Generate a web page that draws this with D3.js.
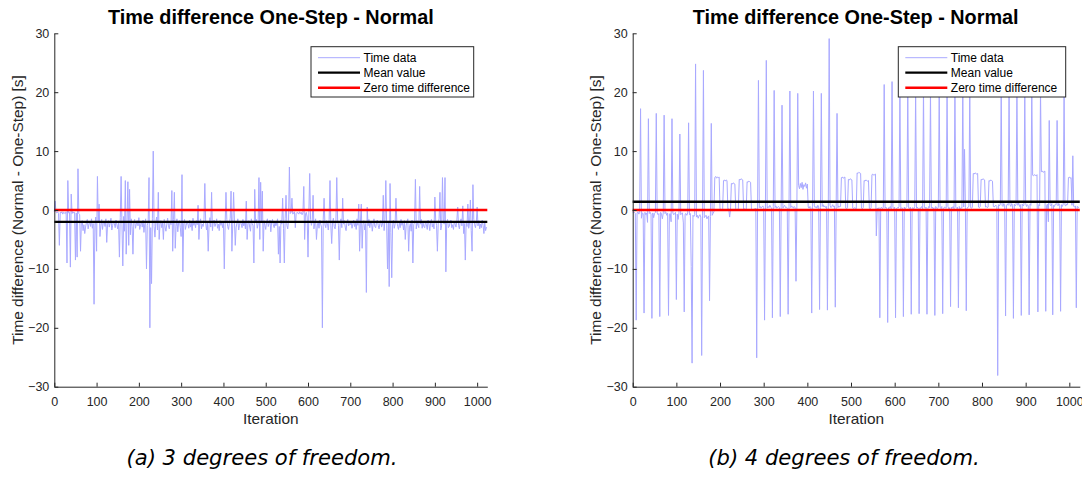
<!DOCTYPE html>
<html><head><meta charset="utf-8">
<script src="https://cdn.jsdelivr.net/npm/d3@7"></script>
<style>body{margin:0;background:#fff} svg{display:block}</style>
</head><body><svg id="c" width="1082" height="479"></svg>
<script>
// ---- data (one value every 2 iterations) ----
const iterStep = 2;
const leftValues = [
-0.3,1.5,-0.4,-0.5,-0.3,-0.6,-6,-0.4,-0.5,-0.3,-0.7,-0.4,-0.5,-0.6,-0.3,-9,
5,-0.5,-0.4,-9.7,2.7,-0.6,-0.3,-0.5,-0.4,-8.5,-0.5,-8,7,-0.6,-0.8,-7,
-2.2,-1.8,-3.5,-2.5,-4,-2.9,-2.1,-1.6,-3.2,-2.4,-1.9,-2.8,-1.5,-3.1,-2.3,-16,
-2.6,-1.2,-7,5.7,-2,1,-4.5,-2.7,-1.6,-3.3,-2.1,-1.9,-2.8,-1.5,-5.5,-2.4,
-1.8,-2.9,-2.2,-1.4,-3.4,-2.6,-1.9,-2.3,-3,-1.7,-2.5,-3.2,-2.1,-8,-1.3,5.7,
-2.5,-9.5,-1.1,-3.6,5,-7.5,-2,4.8,-6,3.5,-4.2,-1.5,-2.8,-7.5,-2.2,-1.6,
-3.1,-2.4,-1.8,-2.7,-1.3,-3.3,-2.5,-2,-2.9,-1.7,-3.8,-2.3,-1.5,-10,-2.6,-1.9,
5.5,-20,-3,-12.5,-1.4,10,-2.8,-4.6,-2.1,-1.2,-3.4,3,-5,-2.4,-1.8,-3,
-2.2,-5,-1.6,-2.9,-3.6,-2.4,-1.4,-2.7,-3.2,-1.9,-2.5,3.3,-7,-1.6,3,-6.5,
-2.8,-1.5,-3.7,-2.2,-1.8,-3,-4.5,6,-10.5,-2.3,-1.6,-3.3,-2.6,-1.9,-2.4,-3.1,
-1.7,-2.9,-2.2,-3.5,-1.4,-2.6,-2,-3,-1.8,-2.5,0.8,-5,-2.1,-1.5,-3.2,-2.4,
-2.8,-1.6,4.5,-2.2,-3.4,-1.9,-7,-2.5,-1.3,-2.9,3,-3.5,-2,-1.7,-2.8,-2.3,
-1.5,-3.1,-2.4,-3.5,-1.8,-2.6,-2.1,-3,-1.9,-10,-2.4,3,-1.6,-2.8,-3.3,-2.2,
-1.4,3.2,-7,-2.5,3,-1.7,-6,-2.9,-2.2,-1.5,-3.4,-2.6,-1.9,-2.3,-3,-1.6,
-2.7,-2.1,-3.2,1.5,-5,-2.4,-1.8,-2.9,-3.6,-1.5,-2.3,-2.7,-9,3.5,-2,-1.6,
-3.1,-2.4,5.5,-5,4.7,-2.2,3.2,-7,-1.8,-2.6,-3.3,-2,-1.5,-2.8,-2.3,-1.7,
-3.7,-2.1,-1.6,-2.5,-3,-1.9,-2.7,-2.2,-1.5,-7.5,-2.8,-9,-1.7,-2.4,2,-3.1,
-9,-1.4,2.5,-2.6,-3.2,-1.8,7.3,-0.6,-0.4,2,-0.7,-0.5,-0.3,-3,-0.6,-0.4,
-0.5,-0.7,-0.3,-0.6,-0.4,-0.8,-0.5,4,-5,-0.6,-0.4,-1.2,-8,-0.5,6.2,-1.6,
-2.6,-1.9,2.5,-3.2,-2.2,-1.5,-5,-2.7,-2,-3.1,-1.7,-2.4,-2.9,-20,-1.6,2,
-2.5,-3,-1.8,-2.3,-3.4,-1.6,5,-2.7,-5.7,-2.1,-1.4,-2.8,-3.2,-2,5.5,-1.7,
-2.6,-8.5,-2.2,-1.5,-3,2,-2.4,-1.8,-2.9,-3.5,-2.1,-1.6,-2.7,-2.3,-2.5,-1.9,
-3.1,-2.4,-1.7,-2.8,-2.2,-3.3,-1.5,-2.6,1,-7,-2,1,-6.5,-2.5,-1.8,-3.4,
-2.3,-14,0.5,-2.7,-1.6,-3,-2.2,-1.9,-3.6,-2.4,-1.5,-2.8,-3,-2.1,-1.7,-2.6,
-3.2,-2.3,-1.8,-2.9,-2.4,2.5,-3.5,-1.6,5,-2.7,-10,-2.2,-13,4.5,-3.8,-11.5,
-2.5,-1.7,-3.1,-2.4,2,-1.9,-2.8,-3.3,-2.1,-3,-1.6,-2.6,-2.2,-3.4,-1.8,-5,
-2.7,-2,-1.5,-7,-2.9,-2.3,-3.6,-1.7,-9,-2.5,-2.1,5.2,-3.2,-1.8,-2.6,-3,
4,-2.4,-1.6,-3.1,-2.2,-2.8,-3,-1.9,-2.5,-3.3,-1.7,-2.4,-3.5,-2,-1.6,-2.9,
-2.3,-3.2,2.2,-1.8,-2.6,-7,-2.1,-1.5,3,-3.4,-2.7,5.5,-1.9,-2.4,5.5,-10.5,
-2.2,-1.6,-3,-2.8,-2.1,-1.7,-3,-2.5,-3.3,-1.9,-2.4,-2.9,-1.8,0.5,-2.6,-3.2,
-2,-1.5,-2.7,0.7,-4,-2.3,-8.5,-1.9,-2.8,1,-3.1,-2.2,1.7,-3.5,-7,4.3,
-1.6,-2.5,-3,-2.1,0.5,-2.7,-1.8,-3.2,-2.4,-3,-1.7,-2.6,-4,-2.2,-3.5,-2.9
];
const rightValues = [
-0.3,-0.5,-0.4,-0.6,-18.7,-0.5,-0.3,-0.7,-0.4,17.2,-1.4,-0.5,-0.6,-17.5,-0.4,-0.8,
-0.5,-2.1,15.5,-0.6,-0.4,-0.7,-18.4,-0.5,-1.3,-0.6,-0.4,16.4,-0.5,-0.8,-0.6,-18.1,
-0.4,-0.7,-1.5,-0.5,16.1,-0.6,-0.4,-0.9,-0.5,-17.9,-0.7,-0.6,-2,15.5,-0.5,-0.8,
-0.6,-0.4,-15.2,-0.7,-1.6,-0.5,12.9,-0.8,-0.6,-0.5,-2.2,-17.3,-0.7,-0.6,-0.9,-0.5,
14.8,-0.8,-0.6,-9.6,-26,-0.9,-1.1,-0.8,24.8,-1.2,-0.9,-1.4,-1,-0.8,-1.2,-24.7,
-1,23.7,-1.3,-1.1,-0.9,-1.5,-1.2,-1,-15.4,-1.1,14.7,-0.9,-0.6,-0.3,5.5,5.7,
5.4,5.6,5.5,5.6,0.2,0.1,-0.1,0.2,5,5.1,4.9,5.1,5,0.1,0.2,-1.2,
0.1,4.5,4.4,4.6,4.5,4.4,0.2,0,0.1,0.2,5.2,5.1,5.3,5.2,5.1,0.1,
0.2,0,0.1,4.8,4.7,4.9,4.8,4.7,0.2,0.1,0,0.2,0.1,0.3,-25.1,0.5,
22,0.4,0.6,0.3,0.5,0.7,0.4,-18.7,0.5,25.4,0.3,0.6,0.4,0.8,0.5,0.3,
-18.3,0.6,20.3,0.4,0.7,0.3,0.5,0.6,0.4,-18.1,0.5,17.8,0.3,0.6,0.8,0.4,
0.5,0.3,-17.7,0.6,20.2,0.4,0.7,0.5,0.3,0.6,0.4,-12.1,0.5,19.8,4.2,3.6,
4.5,3.8,4.7,3.5,4.3,4,4.6,3.7,4.4,0.5,0.3,0.6,0.4,-17.5,0.5,20.2,
0.7,0.4,0.6,0.3,0.8,0.5,-16.9,0.4,19.8,0.6,0.9,0.5,0.7,0.4,0.6,-17,
0.5,29.1,0.8,0.4,0.6,0.9,0.5,0.7,-16.5,0.6,16.4,0.4,0.7,0.5,0.6,5.5,
5.6,5.4,5.5,5.6,0.3,0.2,0.4,5.2,5.1,5.3,5.2,5.1,0.3,0.2,0.4,0.3,
0.2,6.3,6.2,6.4,6.3,6.2,0.3,0.2,0.4,5,4.9,5.1,5,4.9,5,0.3,
0.2,0.4,6,6.1,5.9,6,6.1,-4.4,0.3,0.2,0.4,-18.3,0.3,0.5,0.2,0.4,
21.3,0.3,0.5,0.2,-19.1,0.4,0.3,0.6,0.2,21.8,0.4,0.3,0.5,-18.3,0.2,0.4,
0.3,0.6,20.5,0.2,0.4,0.3,-18.1,0.5,0.2,0.4,0.6,20.6,0.3,0.2,0.5,-17.7,
0.3,0.4,0.2,0.6,20.4,0.3,0.5,0.2,-17.6,0.4,0.3,0.6,0.2,20.7,0.4,0.3,
0.5,-17.7,0.2,0.6,0.4,20.3,0.3,0.5,0.2,0.4,-17.9,0.6,0.3,0.2,0.5,20.6,
0.4,0.3,0.6,-17.6,0.2,0.5,0.4,0.3,20.4,0.6,0.2,0.4,-16.4,0.5,0.3,0.6,
0.2,20.5,0.4,0.3,0.5,-16.6,0.6,0.2,0.4,0.3,20.3,0.5,10.3,0.4,-17.1,0.3,
0.5,0.6,20.4,0.4,0.3,0.5,6.2,6.1,6.3,6.2,6.1,6.2,0.5,0.4,0.6,5.2,
5.1,5.3,5.2,5.1,0.5,0.6,0.4,0.5,5,4.9,5.1,5,4.9,0.6,0.5,0.7,
0.8,0.6,-28.1,0.9,0.7,1,20.5,0.8,0.6,1.1,0.9,-18,0.7,1,0.8,20.4,
0.9,0.6,1.1,0.8,-18.4,1,0.7,0.9,20.6,0.8,1.2,0.6,0.9,-17.9,1,0.7,
0.8,20.3,1.1,0.6,0.9,0.7,-17.8,1,0.8,20.5,5.9,5.8,6,5.9,5.8,6,
-17.3,0.9,0.7,20.4,6.5,6.6,6.4,6.5,6.6,-17.2,0.8,1,-2,15.2,0.9,0.7,
1.1,-17.8,0.8,0.6,1,0.9,15.2,0.7,1.1,0.8,-17.2,0.9,0.6,1,20,0.8,
0.7,1,0.9,5.5,5.6,5.4,5.5,0.8,9.2,0.6,0.5,0.7,-16.6,0.6,0.5,0.4
];
const leftMean = -2.0;
const rightMean = 1.4;
const xDomain = [0, 1024];
const yDomain = [-30, 30];
const xTicks = [0,100,200,300,400,500,600,700,800,900,1000];
const yTicks = [-30,-20,-10,0,10,20,30];
const titleText = "Time difference One-Step - Normal";
const xLabelText = "Iteration";
const yLabelText = "Time difference (Normal - One-Step) [s]";
const legendLabels = ["Time data","Mean value","Zero time difference"];
const captions = ["(a) 3 degrees of freedom.","(b) 4 degrees of freedom."];

// ---- layout ----
const svg = d3.select("#c");
const AX = "#262626";
const FONT = "'Liberation Sans', Arial, Helvetica, sans-serif";
const panels = [
  {values:leftValues, mean:leftMean, caption:captions[0], x0:54.3, x1:487.3, ylabX:23, lg:{x:311,w:162.7}, capX:262},
  {values:rightValues, mean:rightMean, caption:captions[1], x0:632.7, x1:1079.8, ylabX:600.5, lg:{x:898.3,w:167.4}, capX:844}
];
const yTop = 33.3, yBot = 386.7;

function fitText(sel, target){
  const w = sel.node().getComputedTextLength();
  const fs = parseFloat(sel.attr("font-size"));
  sel.attr("font-size", (fs*target/w).toFixed(2));
  return fs*target/w;
}

let titleFS=null, labelFS=null, capFS=null;

panels.forEach((p,pi)=>{
  const x = d3.scaleLinear().domain(xDomain).range([p.x0, p.x0 + (p.x1-p.x0)]);
  const y = d3.scaleLinear().domain(yDomain).range([yBot, yTop]);
  const g = svg.append("g");

  // data
  const line = d3.line().x((d,i)=>x(i*iterStep)).y(d=>y(d));
  g.append("path").datum(p.values).attr("d", line)
    .attr("fill","none").attr("stroke","#a9a9ff").attr("stroke-width",1);
  // mean
  g.append("line").attr("x1",x(xDomain[0])).attr("x2",x(xDomain[1]))
    .attr("y1",y(p.mean)).attr("y2",y(p.mean)).attr("stroke","#000").attr("stroke-width",2.3);
  // zero
  g.append("line").attr("x1",x(xDomain[0])).attr("x2",x(xDomain[1]))
    .attr("y1",y(0)).attr("y2",y(0)).attr("stroke","#ff0000").attr("stroke-width",2.6);

  // axes (ticks inward)
  const xa = g.append("g").attr("transform",`translate(0,${yBot})`)
    .call(d3.axisBottom(x).tickValues(xTicks).tickSizeInner(-4).tickSizeOuter(0).tickPadding(10).tickFormat(d3.format("d")));
  const ya = g.append("g").attr("transform",`translate(${p.x0},0)`)
    .call(d3.axisLeft(y).tickValues(yTicks).tickSizeInner(-4).tickSizeOuter(0).tickPadding(9).tickFormat(d3.format("d")));
  [xa,ya].forEach(a=>{
    a.select(".domain").attr("stroke",AX).attr("stroke-width",1);
    a.selectAll(".tick line").attr("stroke",AX);
    a.selectAll(".tick text").attr("fill",AX).attr("font-family",FONT).attr("font-size",12.5);
  });
  xa.selectAll(".tick text").attr("dy","0.71em");
  ya.selectAll(".tick text").attr("x",-5);

  // title
  const cx = (p.x0+p.x1)/2;
  const cxT = pi===0 ? cx : 855.7;
  const t = g.append("text").attr("x",cxT).attr("y",24).attr("text-anchor","middle")
    .attr("font-family",FONT).attr("font-weight","bold").attr("font-size",19).attr("fill","#000").text(titleText);
  if(titleFS===null) titleFS = fitText(t,326); else t.attr("font-size",titleFS.toFixed(2));

  // y label
  const yl = g.append("text").attr("transform",`translate(${p.ylabX},210) rotate(-90)`)
    .attr("text-anchor","middle").attr("font-family",FONT).attr("font-size",14.5).attr("fill",AX).text(yLabelText);
  if(labelFS===null) labelFS = fitText(yl,270); else yl.attr("font-size",labelFS.toFixed(2));
  // x label
  g.append("text").attr("x",cx).attr("y",424).attr("text-anchor","middle")
    .attr("font-family",FONT).attr("font-size",labelFS.toFixed(2)).attr("fill",AX).text(xLabelText);

  // legend
  const lgY = 46.7, lgH = 50.3;
  const lg = g.append("g");
  lg.append("rect").attr("x",p.lg.x).attr("y",lgY).attr("width",p.lg.w).attr("height",lgH)
    .attr("fill","#fff").attr("stroke",AX).attr("stroke-width",1);
  const styles = [{c:"#a9a9ff",w:1},{c:"#000",w:2.3},{c:"#ff0000",w:2.6}];
  legendLabels.forEach((lab,i)=>{
    const ry = 57.7 + i*15;
    lg.append("line").attr("x1",p.lg.x+7).attr("x2",p.lg.x+49).attr("y1",ry).attr("y2",ry)
      .attr("stroke",styles[i].c).attr("stroke-width",styles[i].w);
    lg.append("text").attr("x",p.lg.x+52.5).attr("y",ry).attr("dy","0.35em")
      .attr("font-family",FONT).attr("font-size",12).attr("fill","#000").text(lab);
  });

  // caption
  const c = svg.append("text").attr("x",p.capX).attr("y",465).attr("text-anchor","middle")
    .attr("font-family","'DejaVu Sans', sans-serif").attr("font-style","italic").attr("font-size",20).attr("fill","#000").text(p.caption);
  if(capFS===null) capFS = fitText(c,271); else c.attr("font-size",capFS.toFixed(2));
});
</script></body></html>
